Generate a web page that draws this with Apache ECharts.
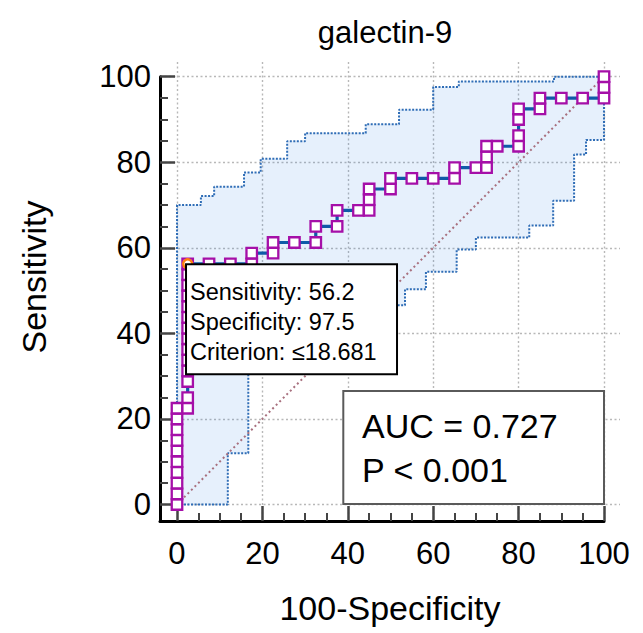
<!DOCTYPE html>
<html>
<head>
<meta charset="utf-8">
<script src="https://cdn.jsdelivr.net/npm/echarts@6/dist/echarts.min.js"></script>
<style>
  html, body { margin: 0; padding: 0; background: #fff; }
  #chart { width: 643px; height: 633px; }
</style>
</head>
<body>
<div id="chart"></div>
<script>
// ROC points (100-Specificity, Sensitivity)
const rocFpr = [0, 0, 0, 0, 0, 0, 0, 0, 0, 0,
  2.5, 2.5, 2.5, 2.5, 2.5, 2.5, 2.5, 2.5, 2.5, 2.5, 2.5, 2.5, 2.5, 2.5,
  7.5, 12.5, 17.5, 17.5, 22.5, 22.5, 27.5, 32.5, 32.5, 37.5, 37.5, 42.5, 45, 45, 45,
  50, 50, 55, 60, 65, 65, 70, 72.5, 72.5, 72.5, 75, 80, 80, 80, 80, 85, 85, 90, 95, 100, 100, 100];
const rocSens = [0, 2.5, 5, 7.5, 10, 12.5, 15, 17.5, 20, 22.5,
  22.5, 25, 28.75, 31.25, 33.75, 36.25, 38.75, 41.25, 43.75, 46.25, 48.75, 51.25, 53.75, 56.25,
  56.25, 56.25, 56.25, 58.75, 58.75, 61.25, 61.25, 61.25, 65, 65, 68.75, 68.75, 68.75, 71.25, 73.75,
  73.75, 76.25, 76.25, 76.25, 76.25, 78.75, 78.75, 78.75, 81.25, 83.75, 83.75, 83.75, 86.25, 90, 92.5, 92.5, 95, 95, 95, 95, 97.5, 100];

// confidence bounds, stepped (horizontal then vertical)
const upperX = [0, 0, 5.6, 8.7, 15.7, 19.6, 25.8, 30, 44.2, 52, 60, 66, 88.3, 100];
const upperY = [0, 70, 72.1, 74.3, 77.6, 80.8, 84.9, 86.8, 88.9, 92.3, 97.6, 98.9, 100, 100];
const lowerX = [0, 11.9, 16.7, 30, 42, 53.4, 58.3, 65.5, 70, 82.5, 88.1, 93, 95.8, 100];
const lowerY = [0, 12, 33, 40, 46.6, 50.3, 54.4, 59.6, 62.4, 65.2, 71, 81.8, 85.2, 100];

const diagX = [0, 100];
const diagY = [0, 100];

const optPoint = [2.5, 56.25];
const optLines = ["Sensitivity: 56.2", "Specificity: 97.5", "Criterion: \u226418.681"];
const statLines = ["AUC = 0.727", "P < 0.001"];

const majorTicks = [0, 20, 40, 60, 80, 100];
const minorTicks = [5, 10, 15, 25, 30, 35, 45, 50, 55, 65, 70, 75, 85, 90, 95];

const FONT = '"Liberation Sans", Arial, sans-serif';
const X_MIN = -3.98, X_MAX = 103.75;
const Y_MIN = -3.86, Y_MAX = 103.44;

const gridStyle = { type: [2, 2.5], width: 1.4, color: "#b8b8b8" };

function pairs(xs, ys) {
  return xs.map((x, i) => [x, ys[i]]);
}

function stepCorners(xs, ys) {
  const pts = [[xs[0], ys[0]]];
  for (let i = 1; i < xs.length; i++) {
    pts.push([xs[i], ys[i - 1]]);
    pts.push([xs[i], ys[i]]);
  }
  return pts;
}

const bandPoly = stepCorners(upperX, upperY).concat(stepCorners(lowerX, lowerY).reverse());

function majorAxis(gridIndex, dim) {
  const isX = dim === "x";
  return {
    gridIndex,
    type: "value",
    min: isX ? X_MIN : Y_MIN,
    max: 100,
    position: isX ? "bottom" : "left",
    axisLine: { show: true, onZero: false, lineStyle: { color: "#000", width: 3 } },
    axisTick: { show: true, inside: true, length: 15, customValues: majorTicks, lineStyle: { color: "#444", width: 2.5 } },
    axisLabel: { show: true, customValues: majorTicks, margin: isX ? 17 : 9, fontSize: 31, color: "#000", fontFamily: FONT },
    splitLine: { show: false },
  };
}

function minorAxis(gridIndex, dim) {
  const isX = dim === "x";
  return {
    gridIndex,
    type: "value",
    min: isX ? X_MIN : Y_MIN,
    max: 100,
    position: isX ? "bottom" : "left",
    axisLine: { show: false, onZero: false },
    axisTick: { show: true, inside: true, length: 8, customValues: minorTicks, lineStyle: { color: "#444", width: 2 } },
    axisLabel: { show: false },
    splitLine: { show: false },
  };
}

const chart = echarts.init(document.getElementById("chart"), null, { renderer: "svg" });

chart.setOption({
  animation: false,
  textStyle: { fontFamily: FONT },
  grid: [
    { left: 160, top: 62, width: 460, height: 459, outerBoundsMode: "none" },
    { left: 160, top: 76.7, width: 444, height: 444.3, outerBoundsMode: "none" },
  ],
  xAxis: [
    {
      gridIndex: 0,
      type: "value",
      min: X_MIN,
      max: X_MAX,
      position: "bottom",
      axisLine: { show: false, onZero: false },
      axisTick: { show: false, customValues: majorTicks },
      axisLabel: { show: false },
      splitLine: { show: true, lineStyle: gridStyle },
      name: "100-Specificity",
      nameLocation: "middle",
      nameGap: 70,
      nameTextStyle: { fontSize: 34, color: "#000", fontFamily: FONT },
    },
    majorAxis(1, "x"),
    minorAxis(1, "x"),
  ],
  yAxis: [
    {
      gridIndex: 0,
      type: "value",
      min: Y_MIN,
      max: Y_MAX,
      position: "left",
      axisLine: { show: false, onZero: false },
      axisTick: { show: false, customValues: majorTicks },
      axisLabel: { show: false },
      splitLine: { show: true, lineStyle: gridStyle },
    },
    majorAxis(1, "y"),
    minorAxis(1, "y"),
  ],
  graphic: [
    {
      type: "text",
      x: 385,
      y: 32,
      style: { text: "galectin-9", fill: "#000", font: `31px ${FONT}`, align: "center", verticalAlign: "middle" },
    },
    {
      type: "text",
      x: 34,
      y: 277,
      rotation: Math.PI / 2,
      style: { text: "Sensitivity", fill: "#000", font: `34px ${FONT}`, align: "center", verticalAlign: "middle" },
    },
    {
      type: "rect",
      shape: { x: 343.3, y: 391, width: 260.7, height: 113 },
      style: { fill: "#fff", stroke: "#5a5a5a", lineWidth: 2 },
      z: 20,
    },
    {
      type: "text",
      x: 362,
      y: 426,
      z: 21,
      style: { text: statLines[0], fill: "#000", font: `34px ${FONT}`, verticalAlign: "middle" },
    },
    {
      type: "text",
      x: 362,
      y: 470,
      z: 21,
      style: { text: statLines[1], fill: "#000", font: `34px ${FONT}`, verticalAlign: "middle" },
    },
  ],
  series: [
    {
      type: "custom",
      xAxisIndex: 0,
      yAxisIndex: 0,
      z: 1,
      silent: true,
      clip: false,
      data: [[0, 0]],
      renderItem: (params, api) => ({
        type: "polygon",
        shape: { points: bandPoly.map((p) => api.coord(p)) },
        style: { fill: "rgba(30,120,230,0.11)" },
      }),
    },
    {
      type: "line",
      step: "end",
      symbol: "none",
      z: 2,
      silent: true,
      clip: false,
      lineStyle: { color: "#2f6db6", width: 2, type: [2, 1.5] },
      data: pairs(upperX, upperY),
    },
    {
      type: "line",
      step: "end",
      symbol: "none",
      z: 2,
      silent: true,
      clip: false,
      lineStyle: { color: "#2f6db6", width: 2, type: [2, 1.5] },
      data: pairs(lowerX, lowerY),
    },
    {
      type: "line",
      symbol: "none",
      z: 2,
      silent: true,
      lineStyle: { color: "#a8707e", width: 2, type: [2, 3] },
      data: pairs(diagX, diagY),
    },
    {
      type: "line",
      symbol: "rect",
      symbolSize: 10.5,
      z: 3,
      silent: true,
      clip: false,
      lineStyle: { color: "#0f5aa8", width: 3.2 },
      itemStyle: { color: "#fff", borderColor: "#a50fa8", borderWidth: 2.3 },
      data: pairs(rocFpr, rocSens),
    },
    {
      type: "scatter",
      symbol: "circle",
      symbolSize: 9,
      z: 10,
      silent: true,
      clip: false,
      itemStyle: { color: "#fff", borderColor: "#ff7f0e", borderWidth: 2.5, opacity: 1 },
      label: {
        show: true,
        position: [5.1, 7.2],
        align: "left",
        verticalAlign: "top",
        formatter: optLines.join("\n"),
        fontSize: 23.5,
        lineHeight: 30,
        color: "#000",
        textBorderWidth: 0,
        fontFamily: FONT,
        backgroundColor: "#fff",
        borderColor: "#000",
        borderWidth: 2,
        padding: [12, 2, 6, 3],
        width: 204,
        height: 90,
      },
      data: [optPoint],
    },
  ],
});
</script>
</body>
</html>
